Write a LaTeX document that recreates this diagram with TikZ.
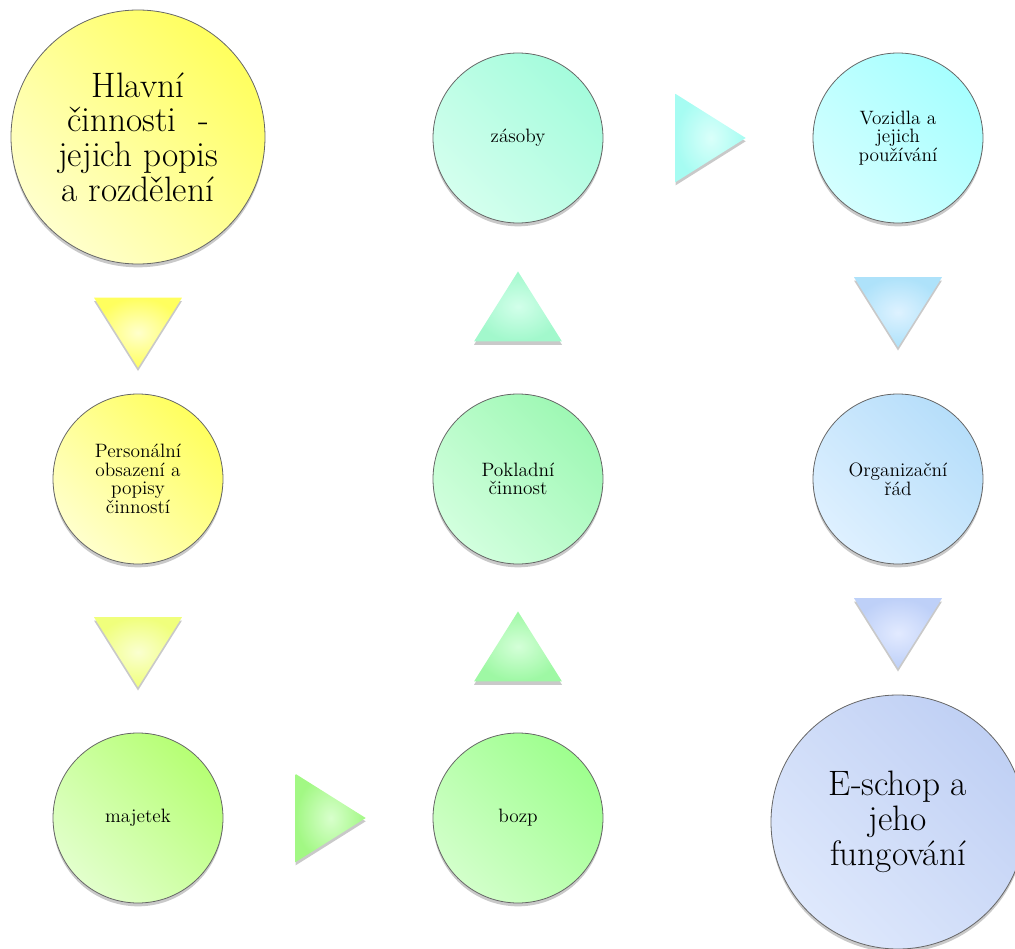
\documentclass[tikz,border=0pt]{standalone}
\usetikzlibrary{shapes.geometric,shadows,calc}

\definecolor{ylwD}{HTML}{FFFF5E}
\definecolor{ylwL}{HTML}{FFFFCC}
\definecolor{ylgD}{HTML}{F0FF7C}
\definecolor{ylgL}{HTML}{FAFFD0}
\definecolor{lgrD}{HTML}{B6FF74}
\definecolor{lgrL}{HTML}{E2FFCC}
\definecolor{grnD}{HTML}{A2F884}
\definecolor{grnL}{HTML}{D8FFCC}
\definecolor{mgrD}{HTML}{9EFF8E}
\definecolor{mgrL}{HTML}{D2FFCA}
\definecolor{sgrD}{HTML}{9EF8A4}
\definecolor{sgrL}{HTML}{D4FFD8}
\definecolor{pgrD}{HTML}{9EF8B4}
\definecolor{pgrL}{HTML}{D2FFDE}
\definecolor{mntD}{HTML}{A2F8CC}
\definecolor{mntL}{HTML}{D2FFEA}
\definecolor{aquD}{HTML}{A4FCDC}
\definecolor{aquL}{HTML}{D4FFEE}
\definecolor{cyaD}{HTML}{A6FCF2}
\definecolor{cyaL}{HTML}{DAFFFA}
\definecolor{cyvD}{HTML}{A6FFFF}
\definecolor{cyvL}{HTML}{D4FFFF}
\definecolor{skyD}{HTML}{AEE2FA}
\definecolor{skyL}{HTML}{DEF2FF}
\definecolor{blsD}{HTML}{B6DEFA}
\definecolor{blsL}{HTML}{DEF0FF}
\definecolor{pblD}{HTML}{BED0F8}
\definecolor{pblL}{HTML}{E2EAFF}
\definecolor{lavD}{HTML}{C0D0F4}
\definecolor{lavL}{HTML}{DEE8FC}

\begin{document}
\begin{tikzpicture}[x=0.75pt,y=-0.75pt]
\tikzstyle{shade} = [drop shadow={shadow xshift=0pt, shadow yshift=-2.5pt, opacity=0.3, fill=black!70}]
\tikzstyle{bub} = [shape=circle, inner sep=0, outer sep=0, draw=black!60, line width=0.6pt, align=center, shade]
\tikzstyle{small} = [bub, minimum size=127.5pt, font=\fontsize{14.5}{14}\selectfont]
\tikzstyle{big} = [bub, minimum size=190.5pt, font=\fontsize{26.5}{26}\selectfont]
\tikzstyle{tri} = [isosceles triangle, isosceles triangle stretches, inner sep=0, outer sep=0, shade, minimum width=66pt, minimum height=52.5pt]
\tikzstyle{tridown} = [tri, shape border rotate=-90, yshift=5.25pt]
\tikzstyle{triup} = [tri, shape border rotate=90, yshift=-6.5pt]
\tikzstyle{triright} = [tri, shape border rotate=0, xshift=-6pt]
\tikzset{tone/.style 2 args={top color=#1, bottom color=#2, shading angle=-45},
         glow/.style 2 args={inner color=#2, outer color=#1}}

\useasboundingbox (0,0) rectangle (1015,949);

% circles
\node [big, tone={ylwD}{ylwL}] (main) at (138,137) {Hlavní\\činnosti~~-\\jejich popis\\a rozdělení};
\node [small, tone={ylwD}{ylwL}] (staff) at (138,479) {Personální\\obsazení a\\popisy\\činností};
\node [small, tone={lgrD}{lgrL}] (assets) at (138,818) {majetek};
\node [small, tone={mgrD}{mgrL}] (safety) at (518,818) {bozp};
\node [small, tone={pgrD}{pgrL}] (cash) at (518,479) {Pokladní\\činnost};
\node [small, tone={aquD}{aquL}] (stock) at (518,138) {zásoby};
\node [small, tone={cyvD}{cyvL}] (cars) at (898,138) {Vozidla a\\jejich\\používání};
\node [small, tone={blsD}{blsL}] (rules) at (898,479) {Organizační\\řád};
\node [big, tone={lavD}{lavL}] (shop) at (898,822) {E-schop a\\jeho\\fungování};

% arrows between them
\node [tridown, glow={ylwD}{ylwL}] (a1) at ($(main.south)!0.5!(staff.north)$) {};
\node [tridown, glow={ylgD}{ylgL}] (a2) at ($(staff.south)!0.5!(assets.north)$) {};
\node [triright, glow={grnD}{grnL}] (a3) at ($(assets.east)!0.5!(safety.west)$) {};
\node [triup, glow={sgrD}{sgrL}] (a4) at ($(safety.north)!0.5!(cash.south)$) {};
\node [triup, glow={mntD}{mntL}] (a5) at ($(cash.north)!0.5!(stock.south)$) {};
\node [triright, glow={cyaD}{cyaL}] (a6) at ($(stock.east)!0.5!(cars.west)$) {};
\node [tridown, glow={skyD}{skyL}] (a7) at ($(cars.south)!0.5!(rules.north)$) {};
\node [tridown, glow={pblD}{pblL}] (a8) at ($(rules.south)!0.5!(shop.north)$) {};
\end{tikzpicture}
\end{document}
